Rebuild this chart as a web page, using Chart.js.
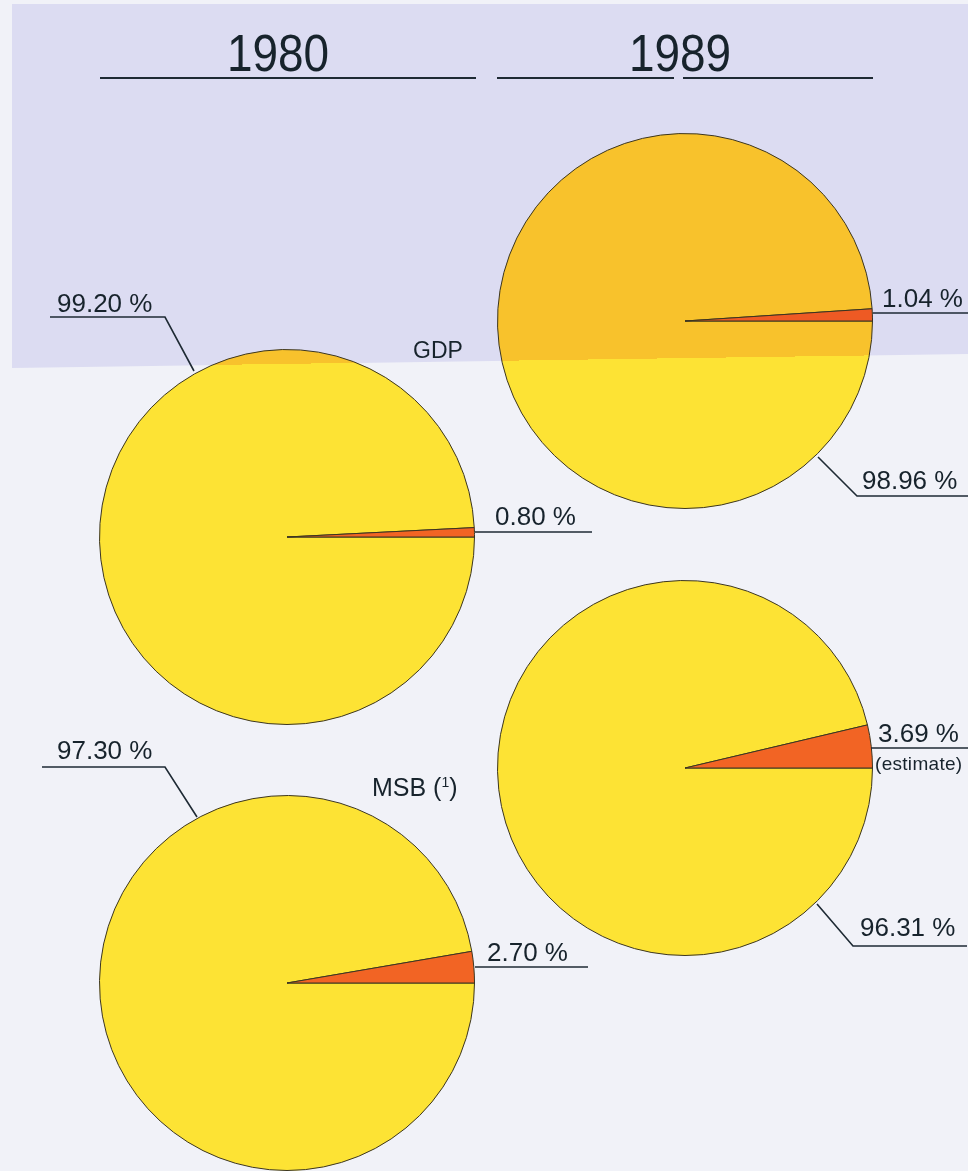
<!DOCTYPE html>
<html>
<head>
<meta charset="utf-8">
<title>GDP and MSB shares, 1980 and 1989</title>
<script src="https://cdn.jsdelivr.net/npm/chart.js@4"></script>
<style>
  html, body { margin: 0; padding: 0; }
  body { background: #f1f2f8; font-family: "Liberation Sans", Arial, sans-serif; color: #17232c; }
  #page { position: relative; width: 968px; height: 1171px; overflow: hidden; }
  #band {
    position: absolute; left: 12px; top: 4px; right: 0; height: 368px;
    background: #dcdcf2;
    clip-path: polygon(0 0, 100% 0, 100% 350px, 0 364px);
  }
  .pie { position: absolute; width: 376px; height: 376px; }
  .title { position: absolute; top: 28px; width: 200px; text-align: center; font-size: 51px; line-height: 1; transform: scaleX(0.9); }
  .lbl { position: absolute; font-size: 26px; line-height: 1; white-space: nowrap; }
  .small { position: absolute; font-size: 19px; line-height: 1; letter-spacing: 0.3px; white-space: nowrap; }
  svg { position: absolute; left: 0; top: 0; }
</style>
</head>
<body>
<div id="page">
  <div id="band"></div>

  <div class="title" id="year-0" style="left:178px"></div>
  <div class="title" id="year-1" style="left:580px"></div>

  <div class="pie" id="pie-gdp-0" style="left:99px; top:349px"><canvas></canvas></div>
  <div class="pie" id="pie-gdp-1" style="left:497px; top:133px"><canvas></canvas></div>
  <div class="pie" id="pie-msb-1" style="left:497px; top:580px"><canvas></canvas></div>
  <div class="pie" id="pie-msb-0" style="left:99px; top:795px"><canvas></canvas></div>

  <svg width="968" height="1171">
    <g stroke="#1e2a34" stroke-width="1.6" fill="none">
      <!-- title rules -->
      <line x1="100" y1="78" x2="476" y2="78" stroke-width="2"/>
      <line x1="497" y1="78" x2="674" y2="78" stroke-width="2"/>
      <line x1="683" y1="78" x2="873" y2="78" stroke-width="2"/>
      <!-- leaders -->
      <polyline points="50,317 165,317 194,371"/>
      <line x1="475" y1="532" x2="592" y2="532"/>
      <line x1="873" y1="313" x2="968" y2="313"/>
      <polyline points="818,457 857,496 968,496"/>
      <line x1="871" y1="748" x2="968" y2="748"/>
      <polyline points="817,904 853,946 967,946"/>
      <polyline points="42,767 165,767 197,817"/>
      <line x1="475" y1="967" x2="588" y2="967"/>
    </g>
  </svg>

  <div class="lbl" id="gdp-rest-0" style="left:57px; top:290px"></div>
  <div class="lbl" style="left:413px; top:339px; font-size:23px">GDP</div>
  <div class="lbl" id="gdp-share-0" style="left:495px; top:503px"></div>
  <div class="lbl" id="gdp-share-1" style="left:882px; top:285px"></div>
  <div class="lbl" id="gdp-rest-1" style="left:862px; top:467px"></div>
  <div class="lbl" id="msb-share-1" style="left:878px; top:720px"></div>
  <div class="small" style="left:875px; top:754px">(estimate)</div>
  <div class="lbl" id="msb-rest-1" style="left:860px; top:914px"></div>
  <div class="lbl" id="msb-rest-0" style="left:57px; top:737px"></div>
  <div class="lbl" style="left:372px; top:775px; font-size:25px">MSB (<sup style="font-size:14px; vertical-align:9px">1</sup>)</div>
  <div class="lbl" id="msb-share-0" style="left:487px; top:939px"></div>
</div>

<script>
// years shown as column headings
const years = ["1980", "1989"];
// small (orange) share, per year
const gdpShare = [0.80, 1.04];
const msbShare = [2.70, 3.69];
// remaining (yellow) share, per year
const gdpRest = [99.20, 98.96];
const msbRest = [97.30, 96.31];

// [below band, inside band] for each slice
const sliceColors = [
  ["#fde334", "#f8c22c"], // rest
  ["#f26424", "#ee5a24"], // share
];

// the lavender band crosses the page slightly tilted: (0,368) -> (968,354)
function bandFill(c) {
  const [below, inside] = sliceColors[c.dataIndex] || sliceColors[0];
  const chart = c.chart;
  if (!chart.ctx) return below;
  const box = chart.canvas.parentNode;
  const ox = box.offsetLeft, oy = box.offsetTop;
  const nx = 14 / 968, ny = 1; // normal to the band edge
  const x0 = 0 - ox, y0 = 368 - oy;
  const g = chart.ctx.createLinearGradient(x0 - nx * 1000, y0 - ny * 1000, x0 + nx * 1000, y0 + ny * 1000);
  g.addColorStop(0, inside);
  g.addColorStop(0.5, inside);
  g.addColorStop(0.5, below);
  g.addColorStop(1, below);
  return g;
}

function drawPie(id, rest, share) {
  const canvas = document.querySelector(`#${id} canvas`);
  return new Chart(canvas, {
    type: "pie",
    data: {
      labels: ["rest", "share"],
      datasets: [
        {
          data: [rest, share],
          backgroundColor: bandFill,
          borderColor: "#3b3520",
          borderWidth: 1,
        },
      ],
    },
    options: {
      rotation: 90, // small slice sits just above 3 o'clock
      responsive: true,
      maintainAspectRatio: false,
      animation: false,
      events: [],
      layout: { padding: 0 },
      plugins: { legend: { display: false }, tooltip: { enabled: false } },
    },
  });
}

const pct = (v) => `${v.toFixed(2)} %`;

years.forEach((y, i) => {
  document.getElementById(`year-${i}`).textContent = y;
  drawPie(`pie-gdp-${i}`, gdpRest[i], gdpShare[i]);
  drawPie(`pie-msb-${i}`, msbRest[i], msbShare[i]);
  document.getElementById(`gdp-rest-${i}`).textContent = pct(gdpRest[i]);
  document.getElementById(`gdp-share-${i}`).textContent = pct(gdpShare[i]);
  document.getElementById(`msb-rest-${i}`).textContent = pct(msbRest[i]);
  document.getElementById(`msb-share-${i}`).textContent = pct(msbShare[i]);
});
</script>
</body>
</html>
